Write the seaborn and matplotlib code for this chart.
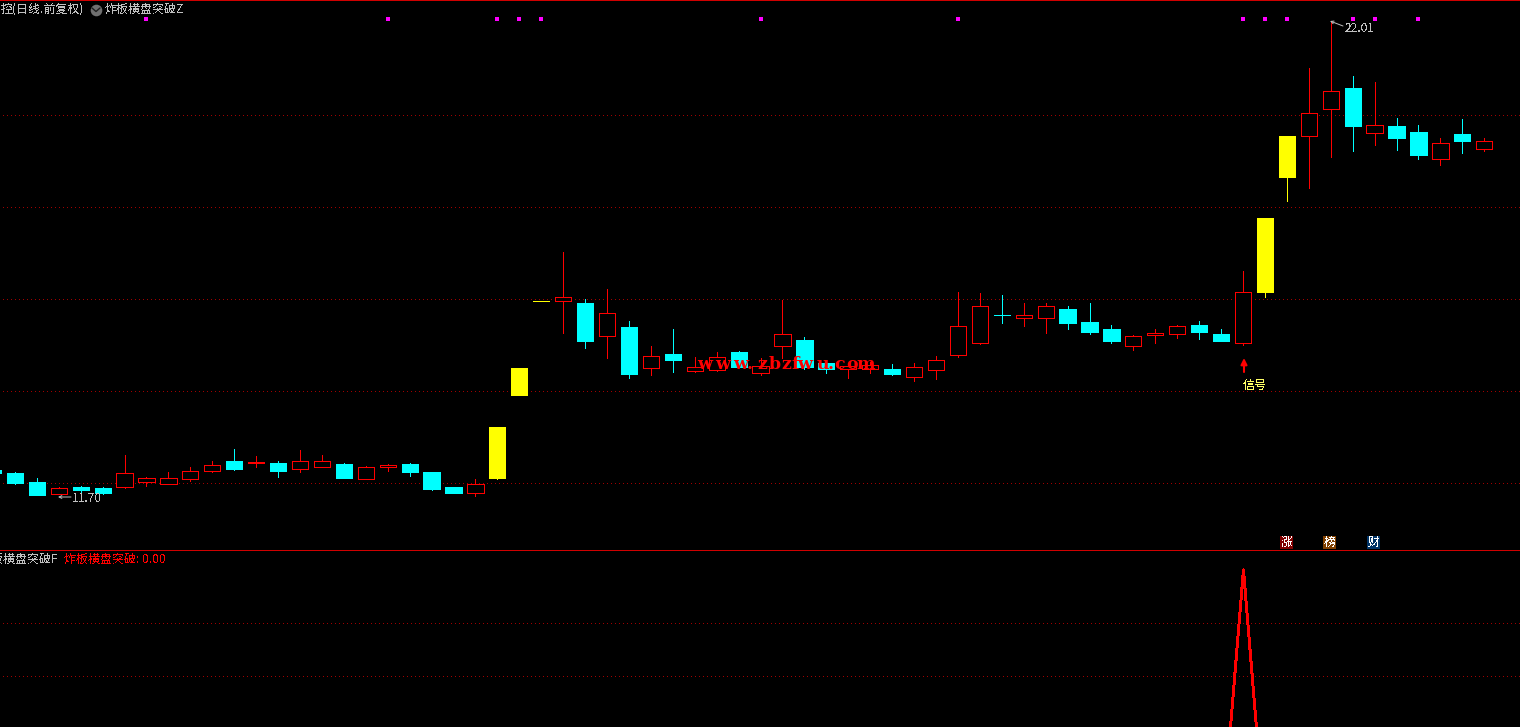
import numpy as np
import pandas as pd
import seaborn as sns
import matplotlib.pyplot as plt

# daily candles (left one is cut by the edge)
open_p = [12.28, 12.20, 12.02, 11.75, 11.91, 11.89, 11.90, 12.01, 11.97, 12.08, 12.25, 12.48,
          12.43, 12.43, 12.30, 12.34, 12.41, 12.08, 12.33, 12.41, 12.22, 11.91, 11.77, 12.11,
          13.91, 15.95, 15.95, 15.91, 15.18, 15.39, 14.49, 14.80, 14.42, 14.45, 14.83, 14.38,
          14.97, 15.11, 14.59, 14.46, 14.47, 14.48, 14.30, 14.45, 14.77, 15.03, 15.64, 15.58,
          15.58, 15.78, 15.50, 15.35, 14.97, 15.21, 15.23, 15.43, 15.24, 15.03, 16.15, 18.65,
          19.53, 20.12, 20.57, 19.60, 19.76, 19.63, 19.03, 19.59, 19.25]
close_p = [12.20, 12.00, 11.74, 11.88, 11.83, 11.78, 12.21, 12.10, 12.10, 12.25, 12.38, 12.30,
           12.45, 12.26, 12.47, 12.47, 12.11, 12.34, 12.39, 12.24, 11.87, 11.78, 11.97, 13.20,
           14.50, 15.95, 16.03, 15.07, 15.68, 14.37, 14.75, 14.67, 14.51, 14.73, 14.52, 14.53,
           15.23, 14.52, 14.46, 14.53, 14.55, 14.37, 14.51, 14.66, 15.40, 15.84, 15.64, 15.65,
           15.84, 15.48, 15.28, 15.07, 15.18, 15.25, 15.40, 15.28, 15.07, 16.14, 17.76, 19.54,
           20.03, 20.51, 19.76, 19.77, 19.50, 19.13, 19.38, 19.43, 19.42]
high_p = [12.28, 12.22, 12.09, 11.91, 11.93, 11.91, 12.59, 12.13, 12.22, 12.35, 12.46, 12.72,
          12.57, 12.48, 12.70, 12.61, 12.43, 12.37, 12.41, 12.43, 12.24, 11.91, 12.07, 13.20,
          14.50, 15.95, 17.02, 16.00, 16.22, 15.52, 14.98, 15.33, 14.74, 14.83, 14.87, 14.70,
          15.96, 15.17, 14.59, 14.60, 14.62, 14.57, 14.59, 14.76, 16.15, 16.13, 16.07, 15.91,
          15.91, 15.85, 15.91, 15.43, 15.22, 15.35, 15.43, 15.52, 15.33, 16.59, 17.76, 19.54,
          21.02, 22.01, 20.83, 20.70, 19.93, 19.78, 19.50, 19.91, 19.50]
low_p = [12.20, 11.98, 11.74, 11.75, 11.80, 11.76, 11.89, 11.93, 11.96, 12.04, 12.22, 12.28,
         12.33, 12.13, 12.24, 12.33, 12.11, 12.07, 12.26, 12.15, 11.85, 11.78, 11.70, 12.07,
         13.91, 15.95, 15.26, 14.93, 14.72, 14.28, 14.33, 14.41, 14.41, 14.43, 14.52, 14.33,
         14.72, 14.46, 14.39, 14.28, 14.39, 14.33, 14.20, 14.26, 14.74, 15.02, 15.48, 15.41,
         15.26, 15.33, 15.24, 15.04, 14.89, 15.04, 15.15, 15.13, 15.07, 15.00, 16.04, 18.12,
         18.41, 19.09, 19.20, 19.35, 19.24, 19.04, 18.91, 19.17, 19.20]
limit_up = [23, 24, 25, 58, 59]
marked = [7, 18, 23, 24, 25, 35, 44, 57, 58, 59, 62, 63, 65]
marker_level = 22.07
grid_top = [12, 14, 16, 18, 20]
grid_bottom = [0.6, 0.8]
signal_day = 57

RED = '#ff0000'
CYAN = '#00ffff'
YELLOW = '#ffff00'
GRAY = '#c0c0c0'
DOTS = '#a00000'

sns.set_theme(style='dark', rc={'axes.facecolor': 'black', 'figure.facecolor': 'black'})
plt.rcParams['font.family'] = ['Noto Sans CJK SC', 'DejaVu Sans']
plt.rcParams['text.antialiased'] = False

df = pd.DataFrame({'day': np.arange(len(open_p)), 'open': open_p, 'close': close_p, 'high': high_p, 'low': low_p})
df['body'] = (df['close'] - df['open']).abs()
df['base'] = df[['open', 'close']].min(axis=1)
df['color'] = np.where(df['close'] > df['open'], RED, CYAN)
df.loc[limit_up, 'color'] = YELLOW
df['signal'] = 0.0
df.loc[signal_day, 'signal'] = 1.0

fig = plt.figure(figsize=(15.2, 7.27), dpi=100)
ax = fig.add_axes([0, 177 / 727, 1, 548 / 727])
ax2 = fig.add_axes([0, 0, 1, 176 / 727])

for g in grid_top:
    ax.axhline(g, xmin=0.002, color=DOTS, lw=0.72, ls=(0, (1, 3)), antialiased=False, zorder=1)
ax.vlines(df['day'], df['low'], df['high'], colors=df['color'], lw=0.72, antialiased=False, zorder=2)

sns.barplot(data=df, x='day', y='body', bottom=df['base'], native_scale=True, width=0.74,
            color='black', saturation=1, errorbar=None, ax=ax, zorder=3)
for bar, col in zip(ax.patches, df['color']):
    bar.set_antialiased(False)
    bar.set_edgecolor(col)
    bar.set_linewidth(0.72)
    # up days stay hollow, all others filled
    bar.set_facecolor('black' if col == RED else col)

sns.scatterplot(x=marked, y=[marker_level] * len(marked), marker='s', s=5, color='#ff00ff', linewidth=0, ax=ax, zorder=4)
ax.set_xlim(0.32, 69.63)
ax.set_ylim(10.535, 22.449)

for g in grid_bottom:
    ax2.axhline(g, xmin=0.002, color=DOTS, lw=0.72, ls=(0, (1, 3)), antialiased=False, zorder=1)
sns.lineplot(data=df, x='day', y='signal', estimator=None, color=RED, lw=1.4, antialiased=False, ax=ax2, zorder=3)
ax2.set_xlim(0.30, 69.61)
ax2.set_ylim(0.41, 1.071)

for a in (ax, ax2):
    a.axis('off')

# overlay in pixel units for the labels
ov = fig.add_axes([0, 0, 1, 1])
ov.set_xlim(0, 1520)
ov.set_ylim(727, 0)
ov.axis('off')
ov.patch.set_alpha(0)

ov.hlines([0.2, 550.2], 0, 1520, colors='#d00000', lw=0.72, antialiased=False)

txt = dict(fontsize=8.64, va='center', ha='left')
ov.text(1, 9.5, '控(日线.前复权)', color=GRAY, **txt)
ov.scatter([96], [10], s=70, color='#707070', linewidth=0)
ov.plot([92, 96, 100], [8, 11.5, 8], color='#202020', lw=1)
ov.text(105, 9.5, '炸板横盘突破Z', color=GRAY, **txt)
ov.text(-20, 559.5, '炸板横盘突破F', color=GRAY, **txt)
ov.text(64, 559.5, '炸板横盘突破: 0.00', color=RED, **txt)

ov.text(72, 498.5, '11.70', color=GRAY, **txt)
ov.annotate('', xy=(58, 497), xytext=(71, 497), arrowprops=dict(arrowstyle='->', color=GRAY, lw=0.7, mutation_scale=5, shrinkA=0, shrinkB=0))
ov.text(1345, 28, '22.01', color=GRAY, **txt)
ov.annotate('', xy=(1330, 21), xytext=(1343, 26), arrowprops=dict(arrowstyle='->', color=GRAY, lw=0.7, mutation_scale=5, shrinkA=0, shrinkB=0))

ov.annotate('', xy=(1244, 358), xytext=(1244, 372), arrowprops=dict(arrowstyle='-|>', color=RED, lw=1.5, mutation_scale=9, shrinkA=0, shrinkB=0))
ov.text(1243, 385, '信号', color='#ffff66', **txt)

for x0, label, bg in [(1280, '涨', '#800000'), (1323, '榜', '#804000'), (1367, '财', '#003366')]:
    ov.fill_between([x0, x0 + 13], 536, 549, color=bg, linewidth=0)
    ov.text(x0 + 6.5, 542.5, label, color='white', fontsize=8.64, ha='center', va='center')

# watermark is letter spaced
wm_x = [705, 723, 741, 750, 762, 775, 786, 795, 805, 823, 831, 840, 852, 866]
for ch, x in zip('www.zbzfwu.com', wm_x):
    ov.text(x, 369, ch, color=RED, family='DejaVu Serif', fontweight='bold', fontsize=12.5, ha='center', va='baseline', antialiased=True)

fig.savefig('out.png', dpi=100, facecolor='black')
